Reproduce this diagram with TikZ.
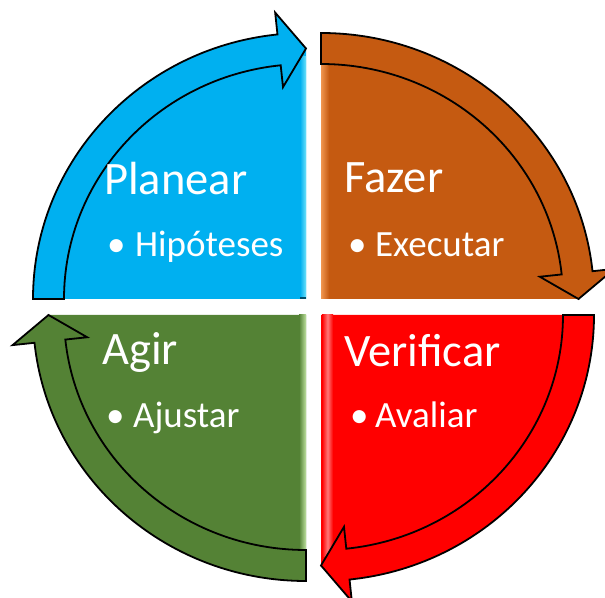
\documentclass[tikz,border=0pt]{standalone}
\usepackage{fontspec}
\setmainfont{Carlito}
\definecolor{planblue}{RGB}{0,176,240}
\definecolor{doorange}{RGB}{197,90,17}
\definecolor{checkred}{RGB}{255,0,0}
\definecolor{actgreen}{RGB}{84,130,53}
\definecolor{blueedge}{RGB}{110,225,250}
\definecolor{orangeedge}{RGB}{240,150,80}
\definecolor{greenedge}{RGB}{190,225,160}
\definecolor{rededge}{RGB}{255,120,120}
\tikzset{
  cyclearrow/.style={draw=black, line width=1.8pt, line join=miter, miter limit=20},
  title/.style={text=white, font=\fontsize{46.5}{50}\selectfont, anchor=base west, inner sep=0pt},
  item/.style={text=white, font=\fontsize{37}{40}\selectfont, anchor=base west, inner sep=0pt},
}
% quarter-ellipse fill: centre, start angle, colour
\newcommand{\quadfill}[3]{%
  \fill[#3] #1 -- ([shift={#1}]#2:258pt and 251pt)
    arc[start angle=#2, end angle=#2-90, x radius=258pt, y radius=251pt] -- cycle;
}
% clockwise curved arrow along the rim: centre, start angle, colour
\newcommand{\rimarrow}[3]{%
  \filldraw[cyclearrow, fill=#3] ([shift={#1}]#2:273pt and 266pt)
    arc[start angle=#2, end angle=#2-84, x radius=273pt, y radius=266pt]
    -- ([shift={#1}]#2-84:295pt and 288pt)
    -- ([shift={#1}]#2-90:257.5pt and 250.5pt)
    -- ([shift={#1}]#2-84:220pt and 213pt)
    -- ([shift={#1}]#2-84:242pt and 235pt)
    arc[start angle=#2-84, end angle=#2, x radius=242pt, y radius=235pt]
    -- cycle;
}
\begin{document}
\begin{tikzpicture}[x=1pt, y=1pt]
\useasboundingbox (0,0) rectangle (605,597);

% quadrants
\quadfill{(306,298)}{180}{planblue}
\quadfill{(321,298)}{90}{doorange}
\quadfill{(321,282)}{0}{checkred}
\quadfill{(306,282)}{-90}{actgreen}

% bevel highlights along the central gap
\shade[left color=planblue, right color=blueedge] (300,298) rectangle (306,540);
\fill[black!55!planblue] (300,298) rectangle (306,300);
\shade[left color=orangeedge, right color=doorange] (321,298) rectangle (329,540);
\shade[left color=actgreen, right color=greenedge] (299,282) rectangle (306,40);
\shade[left color=checkred, right color=checkred, middle color=rededge] (322,282) rectangle (333,40);

% rim arrows
\rimarrow{(306,298)}{180}{planblue}
\rimarrow{(321,298)}{90}{doorange}
\rimarrow{(321,282)}{0}{checkred}
\rimarrow{(306,282)}{-90}{actgreen}

% labels
\node[title] (plan) at (104,402) {Planear};
\node[item] (planitem) at (107,340) {\makebox[28pt][l]{\textbullet}Hipóteses};
\node[title] (do) at (344,404) {Fazer};
\node[item] (doitem) at (348,340) {\makebox[27pt][l]{\textbullet}Executar};
\node[title] (act) at (102,232) {Agir};
\node[item] (actitem) at (106,169) {\makebox[27pt][l]{\textbullet}Ajustar};
\node[title] (check) at (344,230) {Verificar};
\node[item] (checkitem) at (350,169) {\makebox[25pt][l]{\textbullet}Avaliar};
\end{tikzpicture}
\end{document}
